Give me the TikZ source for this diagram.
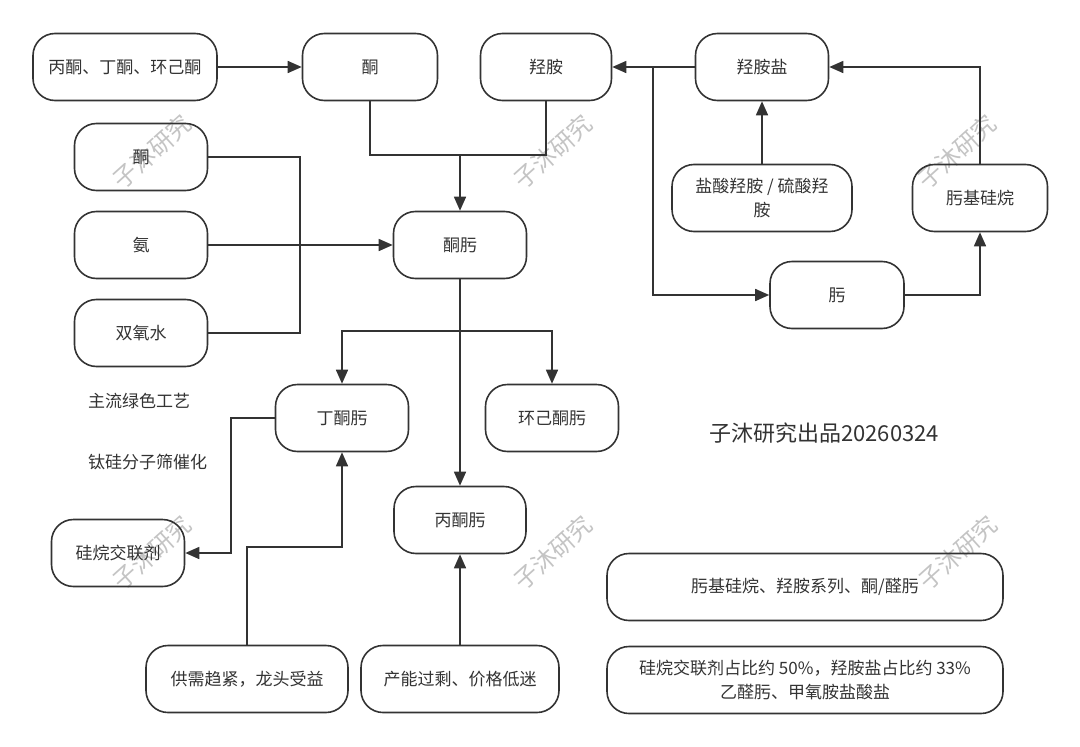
\documentclass[tikz,border=0pt]{standalone}
\usepackage{fontspec}
\setmainfont{Noto Sans CJK SC}
\usetikzlibrary{arrows.meta}
\definecolor{ink}{HTML}{333333}
\definecolor{wm}{HTML}{C4C4C4}
\tikzset{
  box/.style={draw=ink, line width=1.6pt, rounded corners=22pt, minimum height=67pt,
    text=ink, font=\fontsize{17}{24}\selectfont, align=center, inner sep=2pt},
  conn/.style={draw=ink, line width=1.6pt},
  arr/.style={conn, -{Triangle[length=14pt,width=12pt]}},
  plain/.style={text=ink, font=\fontsize{17}{22}\selectfont, anchor=west, inner sep=0pt},
  wmark/.style={text=wm, rotate=42, font=\fontsize{24}{24}\selectfont, inner sep=0pt}
}
\begin{document}
\begin{tikzpicture}[x=1pt,y=-1pt]
\useasboundingbox[fill=white] (0,0) rectangle (1080,747);
% watermarks
\node[wmark] (w1) at (152,152) {子沐研究};
\node[wmark] (w2) at (553,152) {子沐研究};
\node[wmark] (w3) at (957,152) {子沐研究};
\node[wmark] (w4) at (152,553) {子沐研究};
\node[wmark] (w5) at (553,553) {子沐研究};
\node[wmark] (w6) at (958,553) {子沐研究};
% nodes
\node[box, minimum width=184pt] (A) at (125,67) {丙酮、丁酮、环己酮};
\node[box, minimum width=135pt] (B) at (370,67) {酮};
\node[box, minimum width=131pt] (C) at (546,67) {羟胺};
\node[box, minimum width=133pt] (hs) at (762,67) {羟胺盐};
\node[box, minimum width=180pt] (ys) at (762,198) {盐酸羟胺 / 硫酸羟\\胺};
\node[box, minimum width=135pt] (wj) at (980,198) {肟基硅烷};
\node[box, minimum width=134pt] (w) at (837,295) {肟};
\node[box, minimum width=133pt] (k2) at (141,157) {酮};
\node[box, minimum width=133pt] (an) at (141,245) {氨};
\node[box, minimum width=133pt] (sy) at (141,333) {双氧水};
\node[box, minimum width=133pt] (km) at (460,245) {酮肟};
\node[box, minimum width=133pt] (dt) at (342,418) {丁酮肟};
\node[box, minimum width=133pt] (hj) at (552,418) {环己酮肟};
\node[box, minimum width=132pt] (bt) at (460,520) {丙酮肟};
\node[box, minimum width=133pt] (gw) at (118,553) {硅烷交联剂};
\node[box, minimum width=202pt] (gx) at (247,679) {供需趋紧，龙头受益};
\node[box, minimum width=198pt] (cn) at (460,679) {产能过剩、价格低迷};
\node[box, minimum width=396pt] (s1) at (805,587) {肟基硅烷、羟胺系列、酮/醛肟};
\node[box, minimum width=396pt] (s2) at (805,680) {硅烷交联剂占比约 50\%，羟胺盐占比约 33\%\\乙醛肟、甲氧胺盐酸盐};
% plain texts
\node[plain] (t1) at (88,401) {主流绿色工艺};
\node[plain] (t2) at (88,462) {钛硅分子筛催化};
\node[text=ink, font=\fontsize{22}{26}\selectfont] (t3) at (824,433) {子沐研究出品20260324};
% connectors
\draw[arr] (A) -- (B);
\coordinate (j1) at (460,155);
\draw[conn] (B.south) |- (j1) -| (C.south);
\draw[arr] (j1) -- (km.north);
\coordinate (m1) at (300,157);
\coordinate (m2) at (300,333);
\draw[conn] (k2.east) -- (m1) -- (m2) -- (sy.east);
\draw[arr] (an.east) -- (km.west);
\draw[arr] (km.south) -- (bt.north);
\coordinate (s) at (460,331);
\draw[arr] (s) -| (dt.north);
\draw[arr] (s) -| (hj.north);
\coordinate (g1) at (231,418);
\draw[arr] (dt.west) -- (g1) |- (gw.east);
\coordinate (g2) at (247,547);
\draw[arr] (gx.north) -- (g2) -| (dt.south);
\draw[arr] (cn.north) -- (bt.south);
\draw[arr] (hs.west) -- (C.east);
\coordinate (r1) at (653,67);
\draw[arr] (r1) |- (w.west);
\draw[arr] (w.east) -| (wj.south);
\draw[arr] (wj.north) |- (hs.east);
\draw[arr] (ys.north) -- (hs.south);
\end{tikzpicture}
\end{document}
